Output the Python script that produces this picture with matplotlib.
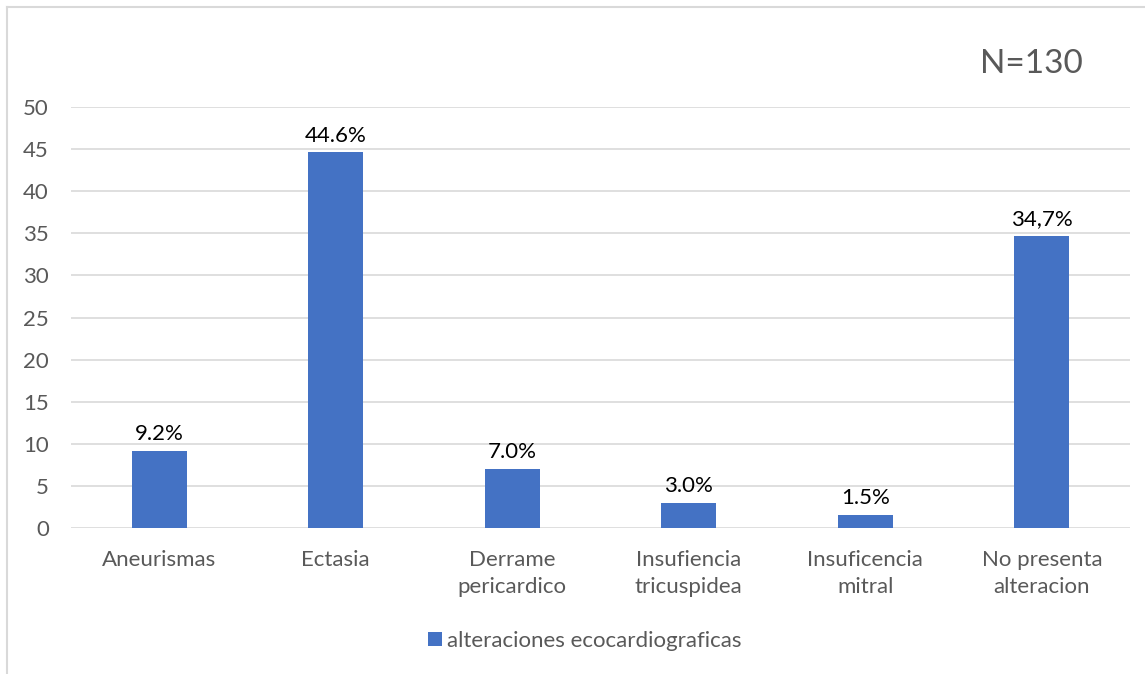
import matplotlib.pyplot as plt
from matplotlib.lines import Line2D

# --- data ---
categories = ["Aneurismas", "Ectasia", "Derrame\npericardico",
              "Insufiencia\ntricuspidea", "Insuficencia\nmitral",
              "No presenta\nalteracion"]
values = [9.2, 44.6, 7.0, 3.0, 1.5, 34.7]
value_labels = ["9.2%", "44.6%", "7.0%", "3.0%", "1.5%", "34,7%"]
series_name = "alteraciones ecocardiograficas"
yticks = [0, 5, 10, 15, 20, 25, 30, 35, 40, 45, 50]

bar_color = "#4472C4"
grid_color = "#D9D9D9"
text_color = "#595959"

plt.rcParams["font.family"] = ["Lato", "DejaVu Sans"]

fig = plt.figure(figsize=(11.45, 6.74), dpi=100)
ax = fig.add_axes([0.062, 0.2166, 0.925, 0.6246])

x = range(len(categories))
bars = ax.bar(x, values, width=0.31, color=bar_color, label=series_name, zorder=3)

for b, lab in zip(bars, value_labels):
    ax.annotate(lab, (b.get_x() + b.get_width() / 2, b.get_height()),
                xytext=(0, 5), textcoords="offset points",
                ha="center", va="bottom", fontsize=16, color="#000000")

ax.set_xlim(-0.5, len(categories) - 0.5)
ax.set_ylim(0, 50)
ax.set_yticks(yticks)
ax.set_xticks(list(x))
ax.set_xticklabels(categories, fontsize=16, color=text_color, linespacing=1.45)
ax.tick_params(axis="y", labelsize=16, labelcolor=text_color, length=0, pad=16)
ax.tick_params(axis="x", length=0, pad=16)
ax.yaxis.grid(True, color=grid_color, linewidth=1.2, zorder=0)
for s in ax.spines.values():
    s.set_visible(False)

fig.text(0.946, 0.905, "N=130", fontsize=24, color=text_color, ha="right", va="center")

leg = fig.legend(loc="center", bbox_to_anchor=(0.511, 0.049), frameon=False,
                 fontsize=16, handlelength=0.6, handleheight=0.6, handletextpad=0.25)
for t in leg.get_texts():
    t.set_color(text_color)

# chart border
fig.add_artist(Line2D([7 / 1145, 7 / 1145], [0, 1 - 7 / 674], color=grid_color, lw=1.5,
                      transform=fig.transFigure))
fig.add_artist(Line2D([7 / 1145, 1], [1 - 7 / 674, 1 - 7 / 674], color=grid_color, lw=1.5,
                      transform=fig.transFigure))

fig.savefig("out.png", dpi=100)
